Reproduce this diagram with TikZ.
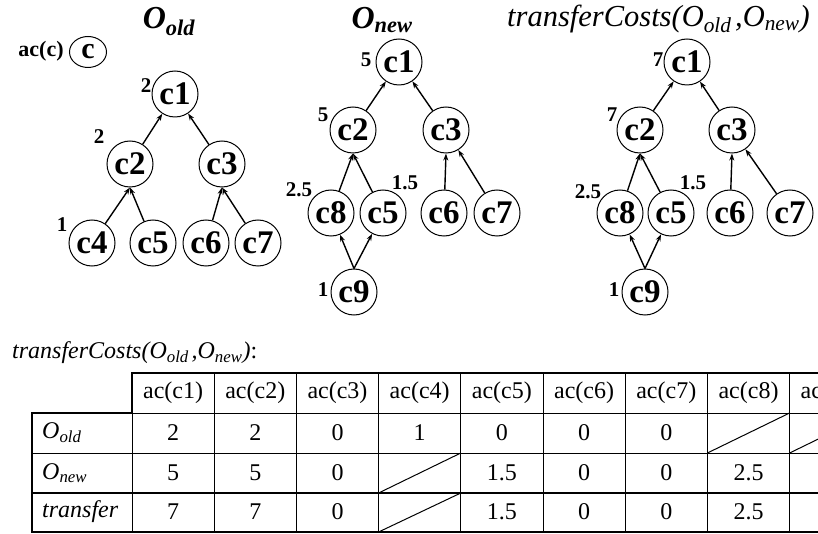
\documentclass[tikz,border=0pt]{standalone}
\usepackage{fontspec}
\setmainfont{Liberation Serif}
\usetikzlibrary{arrows.meta,shapes.geometric}
\begin{document}
\begin{tikzpicture}[x=1pt,y=-1pt,
  cn/.style={circle,draw,line width=1pt,minimum size=46pt,inner sep=0pt,font=\fontsize{33}{33}\selectfont\bfseries},
  cost/.style={font=\fontsize{21}{21}\selectfont\bfseries,inner sep=0pt},
  edge/.style={-{Stealth[length=7pt,width=5pt]},line width=1.4pt},
  ttl/.style={font=\fontsize{32}{32}\selectfont\bfseries\itshape,inner sep=0pt},
  ttlb/.style={font=\fontsize{30.5}{30.5}\selectfont\itshape,inner sep=0pt},
  cell/.style={font=\fontsize{24}{24}\selectfont,inner sep=0pt},
  tline/.style={line width=2.5pt},
  nline/.style={line width=1pt}]
\useasboundingbox (0,0) rectangle (818,534);
\clip (0,0) rectangle (818,534);

% titles
\node[ttl] (tOld) at (169,22) {O\textsubscript{old}};
\node[ttl] (tNew) at (382,20) {O\textsubscript{new}};
\node[ttlb,anchor=west] (tTr) at (507,19) {transferCosts(O\textsubscript{old\,},O\textsubscript{new})};

% legend
\node[font=\fontsize{22}{22}\selectfont\bfseries,inner sep=0pt] (lac) at (41,51) {ac(c)};
\node[ellipse,draw,line width=1pt,minimum width=37pt,minimum height=31pt,inner sep=0pt,font=\fontsize{30}{30}\selectfont\bfseries] (lc) at (88,52) {c};

% O_old tree
\node[cn] (a1) at (175,94) {c1};
\node[cn] (a2) at (130,164) {c2};
\node[cn] (a3) at (222,164) {c3};
\node[cn] (a4) at (92,243) {c4};
\node[cn] (a5) at (153,243) {c5};
\node[cn] (a6) at (206,243) {c6};
\node[cn] (a7) at (258,243) {c7};
\draw[edge] (a2) -- (a1);
\draw[edge] (a3) -- (a1);
\draw[edge] (a4) -- (a2.south);
\draw[edge] (a5) -- (a2.south);
\draw[edge] (a6) -- (a3.south);
\draw[edge] (a7) -- (a3.south);
\node[cost] (la1) at (146,86) {2};
\node[cost] (la2) at (99,137) {2};
\node[cost] (la4) at (62,225) {1};

% O_new tree
\node[cn] (b1) at (399,62) {c1};
\node[cn] (b2) at (353,130) {c2};
\node[cn] (b3) at (446,130) {c3};
\node[cn] (b8) at (331,213) {c8};
\node[cn] (b5) at (383,213) {c5};
\node[cn] (b6) at (444,213) {c6};
\node[cn] (b7) at (497,213) {c7};
\node[cn] (b9) at (354,292) {c9};
\draw[edge] (b2) -- (b1);
\draw[edge] (b3) -- (b1);
\draw[edge] (b8) -- (b2.south);
\draw[edge] (b5) -- (b2.south);
\draw[edge] (b6) -- (b3.south);
\draw[edge] (b7) -- (b3);
\draw[edge] (b9.north) -- (b8);
\draw[edge] (b9.north) -- (b5);
\node[cost] (lb1) at (366,60) {5};
\node[cost] (lb2) at (323,115) {5};
\node[cost] (lb8) at (299,190) {2.5};
\node[cost] (lb5) at (405,183) {1.5};
\node[cost] (lb9) at (323,290) {1};

% transfer tree
\node[cn] (t1) at (687,62) {c1};
\node[cn] (t2) at (640,130) {c2};
\node[cn] (t3) at (732,130) {c3};
\node[cn] (t8) at (620,213) {c8};
\node[cn] (t5) at (671,213) {c5};
\node[cn] (t6) at (730,213) {c6};
\node[cn] (t7) at (790,213) {c7};
\node[cn] (t9) at (645,292) {c9};
\draw[edge] (t2) -- (t1);
\draw[edge] (t3) -- (t1);
\draw[edge] (t8) -- (t2.south);
\draw[edge] (t5) -- (t2.south);
\draw[edge] (t6) -- (t3.south);
\draw[edge] (t7) -- (t3);
\draw[edge] (t9.north) -- (t8);
\draw[edge] (t9.north) -- (t5);
\node[cost] (lt1) at (658,60) {7};
\node[cost] (lt2) at (612,115) {7};
\node[cost] (lt8) at (588,192) {2.5};
\node[cost] (lt5) at (693,183) {1.5};
\node[cost] (lt9) at (614,290) {1};

% table caption
\node[cell,anchor=west,font=\fontsize{24}{24}\selectfont\itshape] (cap) at (12,353) {transferCosts(O\textsubscript{old\,},O\textsubscript{new})\upshape:};

% table grid
\foreach \i in {1,...,9} {
  \draw[nline] ({132+82.2*\i},373) -- ({132+82.2*\i},532);
}
\draw[nline] (132,373) -- (132,532);
\draw[nline] (32,453) -- (871,453);
\draw[nline] (132,413) -- (871,413);
\draw[tline] (132,373) -- (871,373);
\draw[tline] (132,372) -- (132,413);
\draw[tline] (31,413) -- (133,413);
\draw[tline] (32,413) -- (32,532);
\draw[tline] (31,493) -- (871,493);
\draw[tline] (31,532) -- (871,532);

% diagonals
\draw[nline] (707.4,453) -- (789.6,413);
\draw[nline] (789.6,453) -- (871.8,413);
\draw[nline] (378.6,493) -- (460.8,453);
\draw[nline] (378.6,532) -- (460.8,493);

% header
\foreach \i in {1,...,9} {
  \node[cell] (h\i) at ({132+82.2*\i-41.1},393) {ac(c\i)};
}
% row labels
\node[cell,anchor=west,font=\fontsize{24}{24}\selectfont\itshape] (rOld) at (42,433) {O\textsubscript{old}};
\node[cell,anchor=west,font=\fontsize{24}{24}\selectfont\itshape] (rNew) at (42,473) {O\textsubscript{new}};
\node[cell,anchor=west,font=\fontsize{24}{24}\selectfont\itshape] (rTr) at (42,512) {transfer};

% values
\node[cell] (v11) at (173.1,433) {2};
\node[cell] (v12) at (255.3,433) {2};
\node[cell] (v13) at (337.5,433) {0};
\node[cell] (v14) at (419.7,433) {1};
\node[cell] (v15) at (501.9,433) {0};
\node[cell] (v16) at (584.1,433) {0};
\node[cell] (v17) at (666.3,433) {0};

\node[cell] (v21) at (173.1,473) {5};
\node[cell] (v22) at (255.3,473) {5};
\node[cell] (v23) at (337.5,473) {0};
\node[cell] (v25) at (501.9,473) {1.5};
\node[cell] (v26) at (584.1,473) {0};
\node[cell] (v27) at (666.3,473) {0};
\node[cell] (v28) at (748.5,473) {2.5};

\node[cell] (v31) at (173.1,512) {7};
\node[cell] (v32) at (255.3,512) {7};
\node[cell] (v33) at (337.5,512) {0};
\node[cell] (v35) at (501.9,512) {1.5};
\node[cell] (v36) at (584.1,512) {0};
\node[cell] (v37) at (666.3,512) {0};
\node[cell] (v38) at (748.5,512) {2.5};
\end{tikzpicture}
\end{document}
